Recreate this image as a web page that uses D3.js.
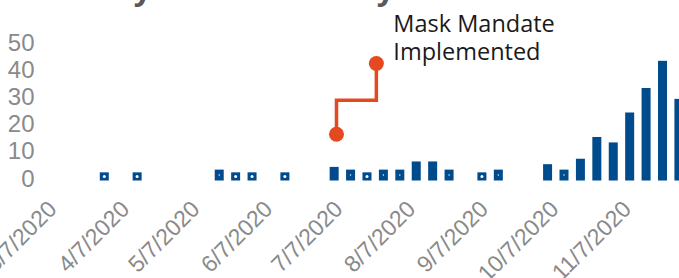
<!DOCTYPE html>
<html>
<head>
<meta charset="utf-8">
<script src="https://cdn.jsdelivr.net/npm/d3@7"></script>
<style>
  body { margin: 0; background: #fff; }
  svg { display: block; }
</style>
</head>
<body>
<svg id="chart" width="679" height="278"></svg>
<script>
// weekly case counts
const weekDates = ["2020-03-31", "2020-04-14", "2020-05-19", "2020-05-26", "2020-06-02", "2020-06-16",
  "2020-07-07", "2020-07-14", "2020-07-21", "2020-07-28", "2020-08-04", "2020-08-11", "2020-08-18",
  "2020-08-25", "2020-09-08", "2020-09-15", "2020-10-06", "2020-10-13", "2020-10-20", "2020-10-27",
  "2020-11-03", "2020-11-10", "2020-11-17", "2020-11-24", "2020-12-01"];
const weekCases = [3, 3, 4, 3, 3, 3, 5, 4, 3, 4, 4, 7, 7, 4, 3, 4, 6, 4, 8, 16, 14, 25, 34, 44, 30];

const yTicks = [0, 10, 20, 30, 40, 50];
const monthTicks = ["2020-03-07", "2020-04-07", "2020-05-07", "2020-06-07", "2020-07-07",
  "2020-08-07", "2020-09-07", "2020-10-07", "2020-11-07"];

// annotation: from the bar to the label, with an elbow
const maskDates = ["2020-07-08", "2020-07-25"];
const maskValues = [17, 43];
const maskElbow = 29.5;
const maskLabel = ["Mask Mandate", "Implemented"];

const titleText = "Weekly New Cases by Date";

const parse = d3.utcParse("%Y-%m-%d");
const fmt = d3.utcFormat("%-m/%-d/%Y");

const svg = d3.select("#chart");

const x = d3.scaleUtc()
  .domain([parse("2020-03-07"), parse("2020-12-07")])
  .range([48, 693]);
const y = d3.scaleLinear()
  .domain([0, 50])
  .range([180.5, 44.5]);

const blue = "#004b8c";
const orange = "#e4491f";
const gray = "#8a8a8a";

// title, mostly cut off at the top edge
const title = svg.append("text")
  .attr("y", 0)
  .attr("font-family", "Liberation Sans, Arial, sans-serif")
  .attr("font-weight", "bold")
  .attr("font-size", 34)
  .attr("fill", "#595959")
  .text(titleText);
// fit it so the two "y" tails fall where they are in the picture
let p1 = title.node().getStartPositionOfChar(5).x;
let p2 = title.node().getStartPositionOfChar(18).x;
let fs = 34 * 243 / (p2 - p1);
title.attr("font-size", fs);
p1 = title.node().getStartPositionOfChar(5).x;
title.attr("x", 133 - p1).attr("y", -0.5);

// y labels
svg.append("g")
  .selectAll("text")
  .data(yTicks)
  .join("text")
  .attr("x", 34.5)
  .attr("y", d => y(d) + 6.1)
  .attr("text-anchor", "end")
  .attr("font-family", "Liberation Sans, Arial, sans-serif")
  .attr("font-size", 24)
  .attr("fill", gray)
  .text(d => d);

// x labels, rotated
svg.append("g")
  .selectAll("text")
  .data(monthTicks.map(parse))
  .join("text")
  .attr("transform", d => "translate(" + (x(d) + 10) + ",210.5) rotate(-45)")
  .attr("text-anchor", "end")
  .attr("font-family", "Liberation Sans, Arial, sans-serif")
  .attr("font-size", 23)
  .attr("fill", gray)
  .text(d => fmt(d));

// bars
const bars = weekDates.map((d, i) => ({ date: parse(d), value: weekCases[i] }));
const bw = 9;
svg.append("g")
  .selectAll("rect")
  .data(bars)
  .join("rect")
  .attr("x", d => x(d.date) - bw / 2)
  .attr("y", d => y(d.value))
  .attr("width", bw)
  .attr("height", d => y(0) - y(d.value))
  .attr("fill", blue);

// the little white specks on the smallest bars
svg.append("g")
  .selectAll("circle")
  .data(bars.filter(d => d.value <= 4))
  .join("circle")
  .attr("cx", d => x(d.date))
  .attr("cy", d => (y(0) + y(d.value)) / 2)
  .attr("r", d => d.value <= 3 ? 1.5 : 0.7)
  .attr("fill", "#fff");

// annotation
const a0 = parse(maskDates[0]), a1 = parse(maskDates[1]);
const pts = [
  [x(a0), y(maskValues[0])],
  [x(a0), y(maskElbow)],
  [x(a1), y(maskElbow)],
  [x(a1), y(maskValues[1])]
];
svg.append("path")
  .attr("d", d3.line()(pts))
  .attr("fill", "none")
  .attr("stroke", orange)
  .attr("stroke-width", 3.5);
svg.append("g")
  .selectAll("circle")
  .data([pts[0], pts[3]])
  .join("circle")
  .attr("cx", d => d[0])
  .attr("cy", d => d[1])
  .attr("r", 7.5)
  .attr("fill", orange);

svg.append("text")
  .attr("font-family", "Open Sans, sans-serif")
  .attr("font-size", 23.5)
  .attr("fill", "#1a1a1a")
  .selectAll("tspan")
  .data(maskLabel)
  .join("tspan")
  .attr("x", x(a1) + 17)
  .attr("y", (d, i) => 31.7 + i * 28.3)
  .text(d => d);
</script>
</body>
</html>
